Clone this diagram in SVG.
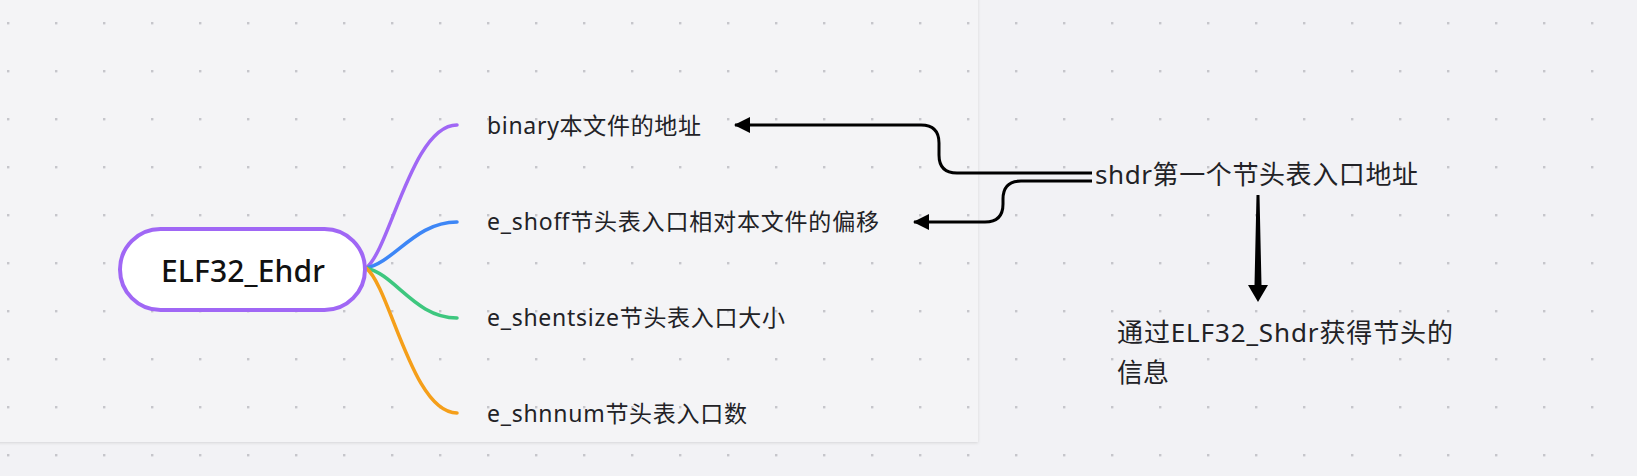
<svg xmlns="http://www.w3.org/2000/svg" width="1637" height="476" viewBox="0 0 1637 476">
<style>
.lbl{font-family:"Noto Sans","Noto Sans CJK SC",sans-serif;font-size:23px;fill:#222226}
.big{font-family:"Noto Sans","Noto Sans CJK SC",sans-serif;font-size:26px;fill:#222226}
.branch{fill:none;stroke-width:3.5;stroke-linecap:round}
.link{fill:none;stroke:#000;stroke-width:3}
</style>
<defs>
<pattern id="dots" x="0" y="0" width="48" height="48" patternUnits="userSpaceOnUse">
<rect x="7" y="22" width="2.4" height="2.4" fill="#c6c6cb"/>
</pattern>
<marker id="ah" viewBox="0 0 16 16" refX="15" refY="8" markerWidth="16" markerHeight="16" markerUnits="userSpaceOnUse" orient="auto">
<path d="M0,0 L16,8 L0,16 Z" fill="#000"/>
</marker>
<filter id="sh" x="-5%" y="-5%" width="110%" height="110%">
<feDropShadow dx="0" dy="1" stdDeviation="1.5" flood-color="#000" flood-opacity="0.12"/>
</filter>
</defs>
<rect width="1637" height="476" fill="#f2f2f5"/>
<rect x="-10" y="-10" width="988" height="452" fill="#f4f4f6" filter="url(#sh)"/>
<rect width="1637" height="476" fill="url(#dots)"/>

<g id="connectors">
<path class="branch" stroke="#a067f5" d="M366 268 C390 250 412 125 457 125"/>
<path class="branch" stroke="#3d86f6" d="M366 268 C395 262 415 222 457 222"/>
<path class="branch" stroke="#3ec77f" d="M366 268 C395 274 415 318 457 318"/>
<path class="branch" stroke="#f59f1a" d="M366 268 C390 286 412 413 457 413"/>
<path class="link" marker-end="url(#ah)" d="M1092 173 L957 173 Q939 173 939 155 L939 143 Q939 125 921 125 L735 125"/>
<path class="link" marker-end="url(#ah)" d="M1092 181 L1021 181 Q1003 181 1003 199 L1003 204 Q1003 222 985 222 L914 222"/>
<polygon fill="#000" points="1256.5,195 1259.5,195 1261.5,285 1268,285 1258,302 1248,285 1254.5,285"/>
</g>

<g id="node-root">
<rect x="120" y="229" width="245" height="81" rx="40.5" fill="#fff" stroke="#a067f5" stroke-width="4"/>
<text x="243" y="282" text-anchor="middle" font-family="'Noto Sans','Noto Sans CJK SC',sans-serif" font-size="30" font-weight="500" fill="#111" textLength="164">ELF32_Ehdr</text>
</g>
<g id="node-binary"><text class="lbl" x="487" y="134" textLength="214">binary本文件的地址</text></g>
<g id="node-shoff"><text class="lbl" x="487" y="230" textLength="392">e_shoff节头表入口相对本文件的偏移</text></g>
<g id="node-shentsize"><text class="lbl" x="487" y="326" textLength="298">e_shentsize节头表入口大小</text></g>
<g id="node-shnnum"><text class="lbl" x="487" y="422" textLength="260">e_shnnum节头表入口数</text></g>
<g id="node-shdr"><text class="big" x="1095" y="184" textLength="323">shdr第一个节头表入口地址</text></g>
<g id="node-info">
<text class="big" x="1117" y="342" textLength="336">通过ELF32_Shdr获得节头的</text>
<text class="big" x="1117" y="382">信息</text>
</g>
</svg>
